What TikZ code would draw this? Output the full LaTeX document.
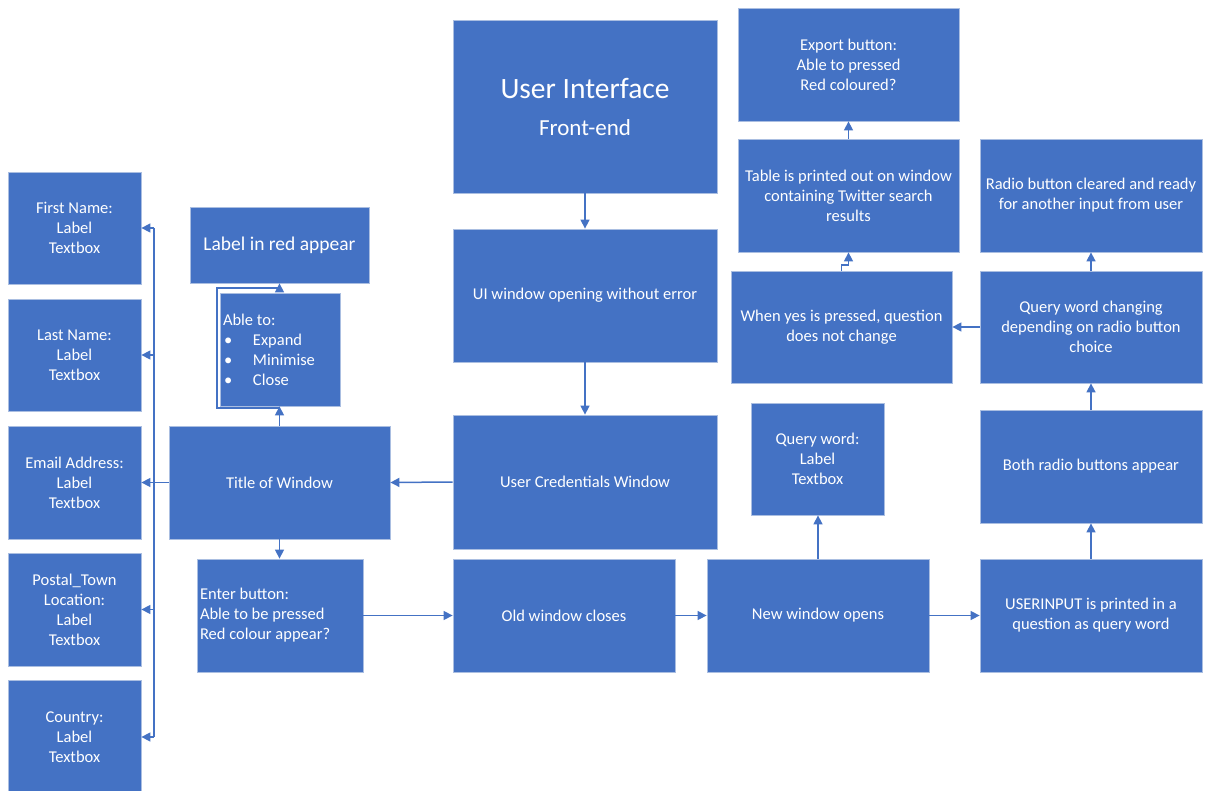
\documentclass[tikz,border=0pt]{standalone}
\usepackage{fontspec}
\setmainfont{Carlito}
\usetikzlibrary{arrows.meta}
\definecolor{boxblue}{HTML}{4472C4}
\definecolor{boxedge}{RGB}{170,190,225}
\begin{document}
\begin{tikzpicture}[x=1pt,y=-1pt,
 box/.style={fill=boxblue, draw=boxedge, line width=0.8pt, text=white, font=\fontsize{16.5}{20}\selectfont, align=center, inner sep=2pt, anchor=center},
 lbox/.style={box, align=flush left, inner sep=3pt},
 arr/.style={draw=boxblue, line width=1.5pt, -{Triangle[length=9pt,width=9pt]}},
 wire/.style={draw=boxblue, line width=1.5pt}]
\useasboundingbox (0,0) rectangle (1210,791);
% left column
\node[box, minimum width=133pt, minimum height=112pt] (fn) at (74.5,228) {First Name:\\Label\\Textbox};
\node[box, minimum width=133pt, minimum height=112pt] (ln) at (74.5,355) {Last Name:\\Label\\Textbox};
\node[box, minimum width=133pt, minimum height=113pt] (em) at (74.5,482.5) {Email Address:\\Label\\Textbox};
\node[box, minimum width=133pt, minimum height=113pt] (pt) at (74.5,609.5) {Postal\_Town\\Location:\\Label\\Textbox};
\node[box, minimum width=133pt, minimum height=114pt] (co) at (74.5,737) {Country:\\Label\\Textbox};
% second column
\node[box, minimum width=179pt, minimum height=76pt, font=\fontsize{19.5}{23}\selectfont] (lr) at (279.5,245) {Label in red appear};
\node[lbox, minimum width=120pt, minimum height=113pt, text width=114pt] (able) at (280,349.5) {\spaceskip=0pt\xspaceskip=0pt\relax Able to:\\\makebox[30pt][l]{\hspace{1pt}•}Expand\\\makebox[30pt][l]{\hspace{1pt}•}Minimise\\\makebox[30pt][l]{\hspace{1pt}•}Close};
\node[box, minimum width=221pt, minimum height=113pt] (title) at (279.5,482.5) {Title of Window};
\node[lbox, minimum width=166pt, minimum height=113pt, text width=160pt] (enter) at (280,615.5) {\spaceskip=0pt\xspaceskip=0pt\relax Enter button:\\Able to be pressed\\Red colour appear?};
% centre column
\node[box, minimum width=264pt, minimum height=173pt, font=\fontsize{29.5}{37}\selectfont] (ui) at (585,106.5) {User Interface\\{\fontsize{23}{26}\selectfont Front-end}};
\node[box, minimum width=264pt, minimum height=133pt] (uiw) at (585,295.5) {UI window opening without error};
\node[box, minimum width=264pt, minimum height=134pt] (ucw) at (585,482) {User Credentials Window};
\node[box, minimum width=222pt, minimum height=113pt] (old) at (564,615.5) {Old window closes};
\node[box, minimum width=222pt, minimum height=113pt] (new) at (818,615.5) {New window opens};
\node[box, minimum width=133pt, minimum height=112pt] (qw) at (817.5,459) {Query word:\\Label\\Textbox};
% right columns
\node[box, minimum width=221pt, minimum height=113pt] (exp) at (848.5,64.5) {Export button:\\Able to pressed\\Red coloured?};
\node[box, minimum width=221pt, minimum height=113pt] (tab) at (848.5,195.5) {Table is printed out on window\\containing Twitter search\\results};
\node[box, minimum width=221pt, minimum height=112pt] (wy) at (841.5,327) {When yes is pressed, question\\does not change};
\node[box, minimum width=222pt, minimum height=113pt] (rc) at (1091,195.5) {Radio button cleared and ready\\for another input from user};
\node[box, minimum width=222pt, minimum height=112pt] (qwc) at (1091,327) {Query word changing\\depending on radio button\\choice};
\node[box, minimum width=222pt, minimum height=113pt] (both) at (1091,466.5) {Both radio buttons appear};
\node[box, minimum width=222pt, minimum height=113pt] (uin) at (1091,615.5) {USERINPUT is printed in a\\question as query word};
% bus on the left
\coordinate (bt) at (154,228);
\coordinate (bb) at (154,737);
\coordinate (b2) at (154,355);
\coordinate (b4) at (154,609.5);
\draw[wire] (bt) -- (bb);
\draw[arr] (bt) -- (fn.east);
\draw[arr] (b2) -- (ln.east);
\draw[arr] (title.west) -- (em.east);
\draw[arr] (b4) -- (pt.east);
\draw[arr] (bb) -- (co.east);
% frame round "Able to"
\coordinate (fa) at (280,408);
\coordinate (fb) at (217,408);
\coordinate (fc) at (217,288);
\coordinate (fd) at (279.5,288);
\draw[wire, line width=1.2pt] (fa) -- (fb) -- (fc) -- (fd);
\draw[arr] (fd) -- (lr.south);
\draw[arr] (title.north) -- (title.north |- able.south);
\draw[arr] (title.south) -- (title.south |- enter.north);
% centre flow
\draw[arr] (ui.south) -- (uiw.north);
\draw[arr] (uiw.south) -- (ucw.north);
\draw[arr] (ucw.west) -- (title.east);
\draw[arr] (enter.east) -- (enter.east -| old.west);
\draw[arr] (old.east) -- (new.west);
\draw[arr] (new.east) -- (uin.west);
\draw[arr] (new.north) -- (new.north |- qw.south);
\draw[arr] (uin.north) -- (both.south);
\draw[arr] (both.north) -- (qwc.south);
\draw[arr] (qwc.north) -- (rc.south);
\draw[arr] (qwc.west) -- (wy.east);
\coordinate (jog) at (841.5,265);
\draw[arr] (wy.north) -- (jog) -| (tab.south);
\draw[arr] (tab.north) -- (exp.south);
\end{tikzpicture}
\end{document}
